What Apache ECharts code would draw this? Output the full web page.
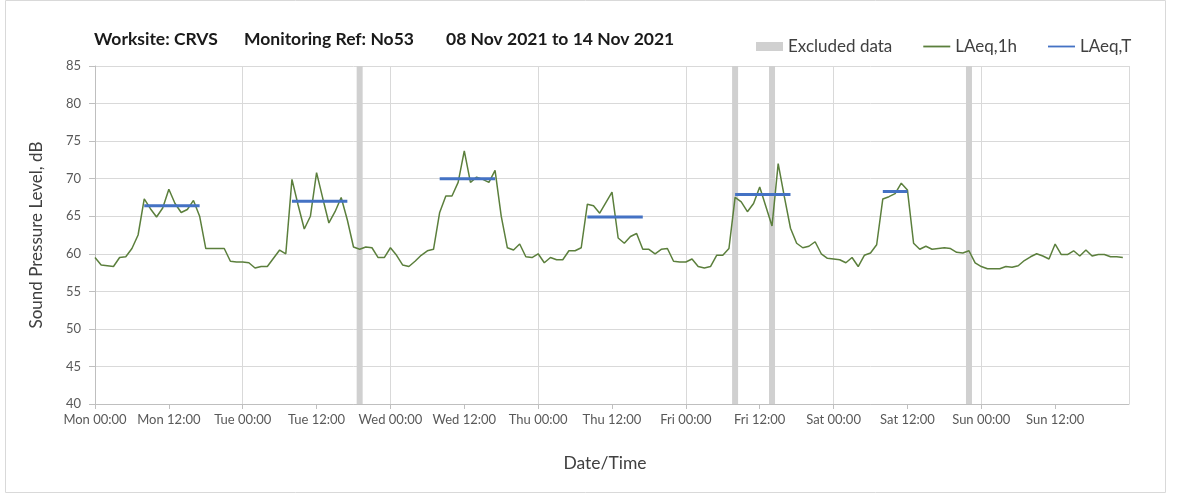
<!DOCTYPE html>
<html>
<head>
<meta charset="utf-8">
<script src="https://cdn.jsdelivr.net/npm/echarts@6/dist/echarts.min.js"></script>
<style>
  html, body { margin: 0; padding: 0; background: #fff; }
  #chart { width: 1181px; height: 495px; }
</style>
</head>
<body>
<div id="chart"></div>
<script>
// hourly LAeq,1h values, one array per day (00:00 .. 23:00)
const monVals = [59.5, 58.5, 58.4, 58.3, 59.5, 59.6, 60.7, 62.5, 67.3, 66.0, 64.9, 66.1, 68.6, 66.7, 65.5, 65.9, 67.1, 65.0, 60.7, 60.7, 60.7, 60.7, 59.0, 58.9]
const tueVals = [58.9, 58.8, 58.1, 58.3, 58.3, 59.4, 60.5, 60.0, 69.9, 66.5, 63.3, 65.0, 70.8, 67.4, 64.1, 65.6, 67.5, 64.5, 60.9, 60.6, 60.9, 60.8, 59.5, 59.5]
const wedVals = [60.8, 59.8, 58.5, 58.3, 59.0, 59.8, 60.4, 60.6, 65.5, 67.7, 67.7, 69.5, 73.7, 69.5, 70.2, 69.9, 69.5, 71.1, 65.0, 60.8, 60.5, 61.3, 59.6, 59.5]
const thuVals = [60.0, 58.8, 59.5, 59.2, 59.2, 60.4, 60.4, 60.8, 66.6, 66.4, 65.4, 66.8, 68.2, 62.1, 61.4, 62.3, 62.7, 60.6, 60.6, 60.0, 60.6, 60.7, 59.0, 58.9]
const friVals = [58.9, 59.3, 58.3, 58.1, 58.3, 59.8, 59.8, 60.7, 67.5, 66.9, 65.6, 66.7, 68.9, 66.3, 63.7, 72.0, 67.6, 63.4, 61.4, 60.8, 61.0, 61.6, 60.0, 59.4]
const satVals = [59.3, 59.2, 58.8, 59.5, 58.3, 59.8, 60.1, 61.2, 67.3, 67.6, 68.0, 69.4, 68.5, 61.4, 60.6, 61.0, 60.6, 60.7, 60.8, 60.7, 60.2, 60.1, 60.4, 58.8]
const sunVals = [58.3, 58.0, 58.0, 58.0, 58.3, 58.2, 58.4, 59.1, 59.6, 60.0, 59.7, 59.3, 61.3, 59.9, 59.9, 60.4, 59.7, 60.5, 59.7, 59.9, 59.9, 59.6, 59.6, 59.5]

// LAeq,T periods (hours from Mon 00:00) and levels
const periodStart = [8, 32, 56, 80, 104, 128]
const periodEnd = [17, 41, 65, 89, 113, 132]
const periodLevel = [66.4, 67.0, 70.0, 64.9, 67.9, 68.3]

// excluded hours (hours from Mon 00:00)
const excludedHours = [43, 104, 110, 142]

const dayNames = ['Mon', 'Tue', 'Wed', 'Thu', 'Fri', 'Sat', 'Sun']
const titleParts = ['Worksite: CRVS', 'Monitoring Ref: No53', '08 Nov 2021 to 14 Nov 2021']

const hourly = [].concat(monVals, tueVals, wedVals, thuVals, friVals, satVals, sunVals)
const lineData = hourly.map((v, i) => [i, v])

let periodData = []
for (let i = 0; i < periodStart.length; i++) {
    periodData.push([periodStart[i], periodLevel[i]])
    periodData.push([periodEnd[i], periodLevel[i]])
    periodData.push('-')
}

const excludedData = excludedHours.map(h => [h, 85])

const fontFam = 'Lato, "Open Sans", sans-serif'
// thin line legend icon (extra move-to points keep the box height)
const lineIcon = 'path://M0,0M0,9M0,3.6H27V5.4H0Z'

const titleLeft = [94, 244, 446]
const titleGraphics = titleParts.map((t, i) => ({
    type: 'text',
    left: titleLeft[i],
    top: 30,
    style: {
        text: t,
        font: 'bold 17.5px ' + fontFam,
        fill: '#1a1a1a'
    }
}))

let chart = echarts.init(document.getElementById('chart'))

let option = {
    animation: false,
    textStyle: { fontFamily: fontFam },
    graphic: [
        {
            type: 'rect',
            shape: { x: 5.5, y: 0.5, width: 1160, height: 492 },
            style: { fill: 'none', stroke: '#d9d9d9', lineWidth: 1 },
            silent: true
        }
    ].concat(titleGraphics),
    legend: {
        left: 751,
        top: 33,
        itemWidth: 27,
        itemHeight: 9,
        itemGap: 31,
        textStyle: { fontSize: 17, color: '#404040', fontFamily: fontFam },
        data: [
            { name: 'Excluded data', icon: 'rect' },
            { name: 'LAeq,1h', icon: lineIcon },
            { name: 'LAeq,T', icon: lineIcon }
        ]
    },
    grid: {
        left: 95,
        right: 52,
        top: 66,
        bottom: 91,
        containLabel: false
    },
    xAxis: [
        {
            type: 'value',
            min: 0,
            max: 168,
            interval: 12,
            name: 'Date/Time',
            nameLocation: 'middle',
            nameGap: 50,
            nameTextStyle: { fontSize: 17.5, color: '#404040', padding: [0, 14, 0, 0] },
            axisLine: { show: true, lineStyle: { color: '#bfbfbf' } },
            axisTick: { show: true, length: 5, lineStyle: { color: '#bfbfbf' } },
            axisLabel: {
                fontSize: 13,
                color: '#595959',
                margin: 9,
                showMaxLabel: false,
                formatter: v => {
                    if (v >= 168) return ''
                    return dayNames[Math.floor(v / 24)] + ' ' + (v % 24 === 0 ? '00:00' : '12:00')
                }
            },
            splitLine: { show: false }
        },
        {
            type: 'value',
            min: 0,
            max: 168,
            interval: 24,
            position: 'bottom',
            axisLine: { show: false },
            axisTick: { show: false },
            axisLabel: { show: false },
            splitLine: { show: true, lineStyle: { color: '#d9d9d9', width: 1 } }
        }
    ],
    yAxis: {
        type: 'value',
        min: 40,
        max: 85,
        interval: 5,
        name: 'Sound Pressure Level, dB',
        nameLocation: 'middle',
        nameGap: 50,
        nameTextStyle: { fontSize: 17, color: '#404040' },
        axisLine: { show: true, lineStyle: { color: '#bfbfbf' } },
        axisTick: { show: true, length: 6, lineStyle: { color: '#bfbfbf' } },
        axisLabel: { fontSize: 13, color: '#595959', margin: 14 },
        splitLine: { show: true, lineStyle: { color: '#d9d9d9', width: 1 } }
    },
    series: [
        {
            name: 'Excluded data',
            type: 'bar',
            data: excludedData,
            barWidth: 6,
            itemStyle: { color: '#d0d0d0' },
            silent: true,
            z: 1
        },
        {
            name: 'LAeq,1h',
            type: 'line',
            data: lineData,
            symbol: 'none',
            lineStyle: { color: '#5b7f3c', width: 1.5 },
            itemStyle: { color: '#5b7f3c' },
            z: 3
        },
        {
            name: 'LAeq,T',
            type: 'line',
            data: periodData,
            symbol: 'none',
            connectNulls: false,
            lineStyle: { color: '#4472c4', width: 3 },
            itemStyle: { color: '#4472c4' },
            z: 4
        }
    ]
}

chart.setOption(option)
</script>
</body>
</html>
